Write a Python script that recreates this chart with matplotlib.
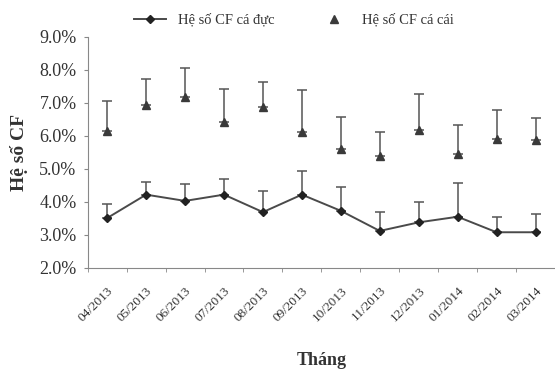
import numpy as np
import matplotlib.pyplot as plt
from matplotlib.ticker import FuncFormatter

months = ['04/2013', '05/2013', '06/2013', '07/2013', '08/2013', '09/2013',
          '10/2013', '11/2013', '12/2013', '01/2014', '02/2014', '03/2014']

# he so CF (%) ca duc, upper error
cf_duc = [3.51, 4.22, 4.03, 4.22, 3.69, 4.22, 3.73, 3.12, 3.38, 3.55, 3.08, 3.08]
err_duc = [0.43, 0.37, 0.51, 0.47, 0.65, 0.72, 0.73, 0.57, 0.61, 1.02, 0.46, 0.54]

# he so CF (%) ca cai, upper error
cf_cai = [6.15, 6.95, 7.17, 6.43, 6.89, 6.12, 5.61, 5.38, 6.17, 5.44, 5.92, 5.89]
err_cai = [0.92, 0.77, 0.90, 0.99, 0.74, 1.28, 0.97, 0.73, 1.11, 0.88, 0.85, 0.66]

plt.rcParams['font.family'] = ['Liberation Serif', 'DejaVu Serif']

fig = plt.figure(figsize=(5.55, 3.69), dpi=100)
ax = fig.add_axes([0.158, 0.274, 0.842, 0.626])

x = np.arange(len(months))
c = '#3a3a3a'

ax.errorbar(x, cf_duc, yerr=[np.zeros(len(x)), err_duc], fmt='none',
            ecolor='#555555', elinewidth=1.1, capsize=3.5, capthick=1.1)
ax.errorbar(x, cf_cai, yerr=[np.zeros(len(x)), err_cai], fmt='none',
            ecolor='#555555', elinewidth=1.1, capsize=3.5, capthick=1.1)
ax.plot(x, cf_duc, color='#4a4a4a', lw=1.4, marker='D', ms=4.5,
        mfc='#222222', mec='#222222', label='Hệ số CF cá đực')
ax.plot(x, cf_cai, ls='none', marker='^', ms=5.5, mfc=c, mec=c,
        label='Hệ số CF cá cái')

ax.set_xlim(-0.5, 11.5)
ax.set_ylim(2, 9)
ax.set_yticks(np.arange(2, 9.01, 1))
ax.yaxis.set_major_formatter(FuncFormatter(lambda v, p: f'{v:.1f}%'))
ax.set_xticks(x)
ax.set_xticklabels(months, rotation=45, ha='right', va='top',
                   rotation_mode='anchor', fontsize=9.5, color='#333333')
ax.set_xticks(np.arange(-0.5, 12, 1), minor=True)
ax.tick_params(axis='x', which='major', length=0, pad=12)
ax.tick_params(axis='x', which='minor', length=3, color='#888888')
ax.tick_params(axis='y', labelsize=13, length=3, color='#888888',
               labelcolor='#333333', pad=5)

for s in ['top', 'right']:
    ax.spines[s].set_visible(False)
for s in ['left', 'bottom']:
    ax.spines[s].set_color('#888888')

ax.set_ylabel('Hệ số CF', fontsize=14, fontweight='bold', color='#333333',
              labelpad=8)
ax.set_xlabel('Tháng', fontsize=13, fontweight='bold', color='#333333',
              labelpad=20)

fig.legend(loc='upper center', bbox_to_anchor=(0.53, 1.0), ncol=2,
           frameon=False, fontsize=10.5, handlelength=2.2, columnspacing=3,
           labelcolor='#333333')

fig.savefig('out.png', dpi=100)
